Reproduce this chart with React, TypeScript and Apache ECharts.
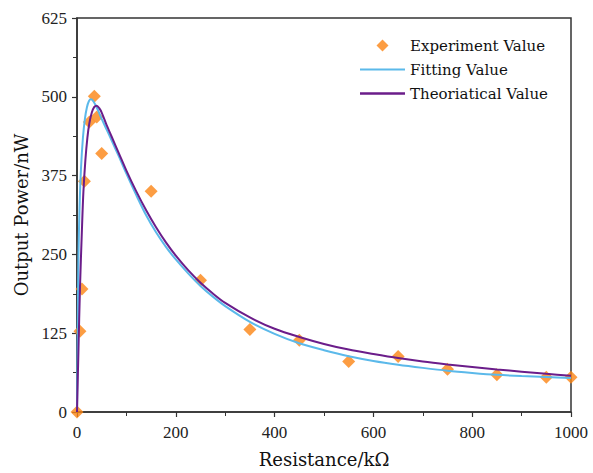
import React, { useEffect, useRef } from "react";
import * as echarts from "echarts";

const experimentX = [0, 6, 10, 15, 25, 35, 40, 50, 150, 250, 350, 450, 550, 650, 750, 850, 950, 1000];
const experimentY = [0, 128, 195, 366, 460, 501, 468, 410, 350, 209, 131, 114, 80, 88, 68, 59, 55, 55];

const fittingX = [0, 1, 2, 3, 5, 8, 12, 16, 20, 24, 28, 33, 40, 50, 60, 70, 85, 100, 120, 140, 160, 180, 200, 225, 250, 275, 300, 350, 400, 450, 500, 550, 600, 650, 700, 750, 800, 850, 900, 950, 1000];
const fittingY = [0, 90, 180, 250, 320, 385, 435, 465, 483, 493, 496, 493, 483, 465, 448, 431, 405, 378, 344, 312, 285, 262, 242, 220, 200, 183, 168, 143, 124, 109, 98, 88.5, 81, 75, 70, 65.5, 62, 59, 57, 55.5, 54];

const theoryX = [0, 3, 6, 10, 13, 17, 21, 25, 30, 35, 40, 45, 50, 60, 70, 85, 100, 120, 140, 160, 180, 200, 225, 250, 275, 300, 350, 400, 450, 500, 550, 600, 650, 700, 750, 800, 850, 900, 950, 1000];
const theoryY = [0, 100, 196, 290, 350, 400, 435, 458, 475, 484, 486, 482, 475, 455, 437, 410, 383, 350, 320, 293, 269, 248, 225, 205, 188, 173, 150, 132, 119, 108, 99, 92, 85.5, 80, 75.5, 71.5, 67.5, 64, 60.5, 57.5];

const xTicks = [0, 200, 400, 600, 800, 1000];
const yTicks = [0, 125, 250, 375, 500, 625];

const pairs = (xs: number[], ys: number[]) => xs.map((x, i) => [x, ys[i]]);

export default function App() {
  const ref = useRef<HTMLDivElement>(null);
  useEffect(() => {
    if (!ref.current) return;
    const chart = echarts.init(ref.current, null, { renderer: "svg" });
    const tickFont = { fontFamily: "Liberation Serif", fontSize: 17, color: "#222" };
    chart.setOption({
      animation: false,
      backgroundColor: "#fff",
      grid: {
        left: 77,
        right: 22,
        top: 18,
        bottom: 58,
        show: true,
        borderColor: "#333",
        borderWidth: 1.5,
        backgroundColor: "transparent",
      },
      legend: {
        orient: "vertical",
        left: 355,
        top: 33,
        itemWidth: 45,
        itemHeight: 12,
        itemGap: 9,
        symbolKeepAspect: true,
        textStyle: { fontFamily: "DejaVu Serif", fontSize: 15, color: "#111" },
        data: [
          { name: "Experiment Value", icon: "path://M6,0 L12,6 L6,12 L0,6 Z" },
          { name: "Fitting Value", icon: "path://M0,0 H45 V2 H0 Z" },
          { name: "Theoriatical Value", icon: "path://M0,0 H45 V2.4 H0 Z" },
        ],
      },
      xAxis: {
        type: "value",
        min: xTicks[0],
        max: xTicks[xTicks.length - 1],
        interval: 200,
        name: "Resistance/kΩ",
        nameLocation: "middle",
        nameGap: 38,
        nameTextStyle: { fontFamily: "DejaVu Serif", fontSize: 18, color: "#111" },
        axisLine: { show: true, lineStyle: { color: "#333", width: 1.5 } },
        axisTick: { show: true, inside: false, length: 5, lineStyle: { color: "#333", width: 1.2 } },
        minorTick: { show: true, splitNumber: 2, length: 4, lineStyle: { color: "#333", width: 1 } },
        axisLabel: { ...tickFont, margin: 12, formatter: (v: number) => String(v) },
        splitLine: { show: false },
      },
      yAxis: {
        type: "value",
        min: yTicks[0],
        max: yTicks[yTicks.length - 1],
        interval: 125,
        name: "Output Power/nW",
        nameLocation: "middle",
        nameGap: 43,
        nameTextStyle: { fontFamily: "DejaVu Serif", fontSize: 18, color: "#111" },
        axisLine: { show: true, lineStyle: { color: "#333", width: 1.5 } },
        axisTick: { show: true, inside: false, length: 5, lineStyle: { color: "#333", width: 1.2 } },
        minorTick: { show: true, splitNumber: 2, length: 4, lineStyle: { color: "#333", width: 1 } },
        axisLabel: { ...tickFont, margin: 10, formatter: (v: number) => String(v) },
        splitLine: { show: false },
      },
      series: [
        {
          name: "Experiment Value",
          type: "scatter",
          symbol: "diamond",
          symbolSize: 13,
          clip: false,
          itemStyle: { color: "#FB8414" },
          data: pairs(experimentX, experimentY),
          z: 2,
        },
        {
          name: "Fitting Value",
          type: "line",
          symbol: "none",
          smooth: 0.3,
          lineStyle: { color: "#5BB9EA", width: 2 },
          itemStyle: { color: "#5BB9EA" },
          data: pairs(fittingX, fittingY),
          z: 3,
        },
        {
          name: "Theoriatical Value",
          type: "line",
          symbol: "none",
          smooth: 0.3,
          lineStyle: { color: "#6B1D8A", width: 2 },
          itemStyle: { color: "#6B1D8A" },
          data: pairs(theoryX, theoryY),
          z: 4,
        },
      ],
    });
    return () => chart.dispose();
  }, []);
  return <div ref={ref} style={{ width: 593, height: 473, position: "absolute", left: 0, top: 0 }} />;
}
